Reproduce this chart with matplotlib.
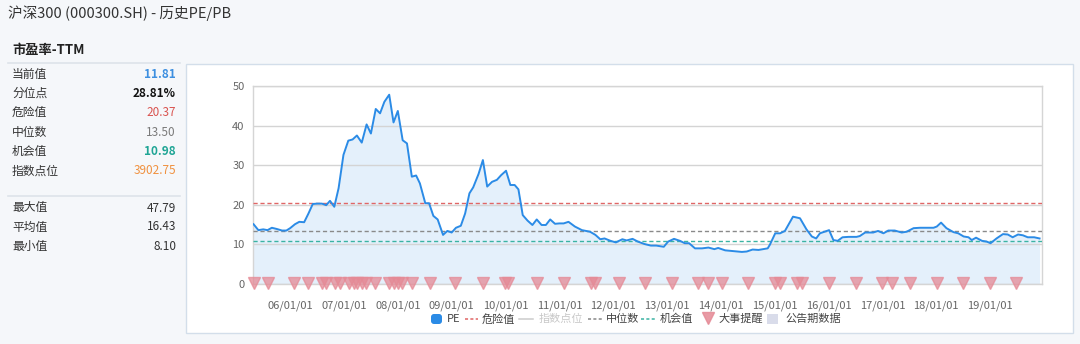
import matplotlib
matplotlib.use("Agg")
import matplotlib.pyplot as plt
from matplotlib.patches import Rectangle, FancyBboxPatch

plt.rcParams['font.family'] = ['Noto Sans CJK SC', 'DejaVu Sans']

# PE-TTM history (time in fractional years)
pe_t = [2005.32, 2005.41, 2005.50, 2005.58, 2005.66, 2005.75, 2005.85, 2005.93,
        2006.00, 2006.09, 2006.17, 2006.26, 2006.34, 2006.42, 2006.50, 2006.59,
        2006.67, 2006.74, 2006.82, 2006.90, 2006.99, 2007.08, 2007.16, 2007.24,
        2007.33, 2007.42, 2007.50, 2007.59, 2007.67, 2007.75, 2007.84, 2007.92,
        2008.00, 2008.09, 2008.17, 2008.26, 2008.34, 2008.41, 2008.51, 2008.58,
        2008.66, 2008.74, 2008.84, 2008.92, 2009.00, 2009.08, 2009.17, 2009.25,
        2009.33, 2009.40, 2009.50, 2009.58, 2009.66, 2009.75, 2009.84, 2009.92,
        2010.01, 2010.09, 2010.17, 2010.24, 2010.32, 2010.41, 2010.50, 2010.58,
        2010.67, 2010.75, 2010.83, 2010.92, 2011.00, 2011.08, 2011.17, 2011.29,
        2011.42, 2011.57, 2011.67, 2011.76, 2011.84, 2011.95, 2012.05, 2012.17,
        2012.25, 2012.36, 2012.46, 2012.58, 2012.70, 2012.80, 2012.94, 2013.02,
        2013.13, 2013.24, 2013.33, 2013.41, 2013.52, 2013.65, 2013.77, 2013.88,
        2013.95, 2014.08, 2014.23, 2014.39, 2014.48, 2014.59, 2014.70, 2014.79,
        2014.87, 2014.91, 2015.01, 2015.10, 2015.19, 2015.34, 2015.47, 2015.59,
        2015.69, 2015.77, 2015.84, 2016.01, 2016.09, 2016.17, 2016.26, 2016.37,
        2016.52, 2016.58, 2016.68, 2016.83, 2016.92, 2017.02, 2017.11, 2017.23,
        2017.36, 2017.45, 2017.58, 2017.70, 2017.95, 2018.01, 2018.09, 2018.19,
        2018.32, 2018.41, 2018.51, 2018.60, 2018.66, 2018.74, 2018.85, 2018.94,
        2019.01, 2019.12, 2019.24, 2019.33, 2019.42, 2019.52, 2019.61, 2019.70,
        2019.82, 2019.92]
pe_v = [15.1, 13.6, 13.8, 13.6, 14.2, 13.9, 13.5, 13.5,
        14.1, 15.1, 15.7, 15.6, 17.8, 20.2, 20.3, 20.3,
        19.9, 21.0, 19.5, 24.2, 32.6, 36.2, 36.5, 37.5,
        35.7, 40.3, 38.0, 44.2, 43.1, 46.0, 47.8, 40.8,
        43.7, 36.3, 35.5, 27.1, 27.4, 25.4, 20.4, 20.4,
        17.2, 16.3, 12.4, 13.4, 13.0, 14.2, 14.7, 17.8,
        22.9, 24.4, 27.8, 31.3, 24.6, 25.8, 26.3, 27.5,
        28.6, 25.0, 25.0, 23.9, 17.4, 16.0, 14.9, 16.3,
        14.9, 14.9, 16.3, 15.2, 15.3, 15.3, 15.7, 14.5,
        13.6, 13.2, 12.4, 11.3, 11.5, 10.9, 10.5, 11.3,
        11.0, 11.4, 10.7, 10.1, 9.7, 9.7, 9.4, 10.7,
        11.4, 10.9, 10.3, 10.3, 9.0, 9.0, 9.2, 8.8,
        9.1, 8.5, 8.3, 8.1, 8.2, 8.7, 8.6, 8.8,
        9.0, 9.9, 12.8, 12.8, 13.4, 17.0, 16.6, 13.8,
        12.0, 11.5, 12.8, 13.6, 11.1, 10.9, 11.8, 11.9,
        11.9, 12.1, 13.0, 13.0, 13.4, 12.8, 13.5, 13.5,
        13.0, 13.2, 14.1, 14.2, 14.2, 14.5, 15.5, 14.1,
        13.1, 12.8, 12.0, 11.8, 11.1, 11.7, 10.9, 10.7,
        10.3, 11.5, 12.6, 12.5, 11.8, 12.5, 12.3, 11.8,
        11.8, 11.5]

# 大事提醒 markers
event_t = [2005.33, 2005.58, 2006.07, 2006.33, 2006.59, 2006.66, 2006.84, 2006.92,
           2007.10, 2007.18, 2007.25, 2007.33, 2007.41, 2007.58, 2007.84, 2007.93,
           2008.00, 2008.07, 2008.26, 2008.59, 2009.06, 2009.59, 2009.99, 2010.05,
           2010.58, 2011.09, 2011.58, 2011.66, 2012.10, 2012.59, 2013.10, 2013.58,
           2013.76, 2014.02, 2014.51, 2015.01, 2015.09, 2015.42, 2015.50, 2016.01,
           2016.51, 2017.00, 2017.17, 2017.51, 2018.01, 2018.50, 2019.00, 2019.49]

danger = 20.37
median = 13.50
chance = 10.98

years = list(range(2006, 2020))
year_labels = ["%02d/01/01" % (y % 100) for y in years]

stat_labels = ["当前值", "分位点", "危险值", "中位数", "机会值", "指数点位"]
stat_values = ["11.81", "28.81%", "20.37", "13.50", "10.98", "3902.75"]
stat_colors = ["#3d8fe0", "#111111", "#d9534f", "#7a7a7a", "#1fa595", "#f0913f"]
extra_labels = ["最大值", "平均值", "最小值"]
extra_values = ["47.79", "16.43", "8.10"]

W, H = 1080, 344
fig = plt.figure(figsize=(W / 100, H / 100), dpi=100)
fig.patch.set_facecolor("#f5f7fa")

# background overlay in pixel coordinates
bg = fig.add_axes([0, 0, 1, 1])
bg.set_xlim(0, W)
bg.set_ylim(H, 0)
bg.axis("off")
bg.add_patch(Rectangle((186, 64), 887, 269, facecolor="white", edgecolor="#d3deea", lw=1))

bg.text(8, 13, "沪深300 (000300.SH) - 历史PE/PB", fontsize=10.5, color="#333333", va="center")
bg.text(12, 50, "市盈率-TTM", fontsize=9.5, color="#222222", fontweight="bold", va="center")
bg.plot([8, 180], [63, 63], color="#dde3ea", lw=1.2)
for i, (lab, val, col) in enumerate(zip(stat_labels, stat_values, stat_colors)):
    y = 74 + i * 19.4
    bg.text(12, y, lab, fontsize=8.5, color="#333333", va="center")
    bg.text(176, y, val, fontsize=8.5, color=col, va="center", ha="right",
            fontweight="bold" if i in (0, 1, 4) else "normal")
bg.plot([8, 180], [196, 196], color="#dde3ea", lw=1.2)
for i, (lab, val) in enumerate(zip(extra_labels, extra_values)):
    y = 208 + i * 19
    bg.text(12, y, lab, fontsize=8.5, color="#333333", va="center")
    bg.text(176, y, val, fontsize=8.5, color="#333333", va="center", ha="right")

# legend
ly = 319
bg.add_patch(FancyBboxPatch((431, ly - 5), 11, 10, boxstyle="round,pad=0,rounding_size=3",
                            facecolor="#2b8be6", edgecolor="none"))
bg.text(447, ly, "PE", fontsize=8, color="#444444", va="center")
bg.plot([465, 478], [ly, ly], color="#e06666", lw=1.1, ls=(0, (2, 1.5)))
bg.text(482, ly, "危险值", fontsize=8, color="#444444", va="center")
bg.plot([519, 533], [ly, ly], color="#cccccc", lw=1.1)
bg.text(539, ly, "指数点位", fontsize=8, color="#c8c8c8", va="center")
bg.plot([588, 602], [ly, ly], color="#888888", lw=1.1, ls=(0, (2, 1.5)))
bg.text(606, ly, "中位数", fontsize=8, color="#444444", va="center")
bg.plot([641, 656], [ly, ly], color="#3bb3a3", lw=1.1, ls=(0, (2, 1.5)))
bg.text(660, ly, "机会值", fontsize=8, color="#444444", va="center")
bg.plot([707.5], [ly - 1], marker="v", markersize=9, color="#e58a96", alpha=0.85, ls="none")
bg.text(718, ly, "大事提醒", fontsize=8, color="#444444", va="center")
bg.add_patch(Rectangle((767, ly - 5), 11, 10, facecolor="#d9dcea", edgecolor="none"))
bg.text(785, ly, "公告期数据", fontsize=8, color="#444444", va="center")

# main chart
ax = fig.add_axes([253 / W, 1 - 284 / H, (1042 - 253) / W, (284 - 86) / H])
ax.set_facecolor("white")
ax.fill_between(pe_t, pe_v, 0, color="#e4f0fb", lw=0, zorder=0.2)
ax.plot(pe_t, pe_v, color="#2b8be6", lw=1.4, zorder=4)
ax.axhline(danger, color="#e06666", lw=1, ls=(0, (3, 2)), zorder=3)
ax.axhline(median, color="#8a8a8a", lw=1, ls=(0, (3, 2)), zorder=3)
ax.axhline(chance, color="#3bb3a3", lw=1, ls=(0, (3, 2)), zorder=3)
ax.plot(event_t, [0.3] * len(event_t), marker="v", markersize=8.5, color="#e58a96",
        alpha=0.75, ls="none", clip_on=False, zorder=5)

ax.set_xlim(2005.31, 2019.965)
ax.set_ylim(0, 50)
ax.set_yticks([0, 10, 20, 30, 40, 50])
ax.set_xticks(years)
ax.set_xticklabels(year_labels)
ax.tick_params(axis="both", length=0, labelsize=8, colors="#666666")
ax.tick_params(axis="x", pad=12)
ax.tick_params(axis="y", pad=6)
ax.grid(axis="y", color="#d4d4d4", lw=1, zorder=0.5)
ax.set_axisbelow(True)
for s in ax.spines.values():
    s.set_color("#d5d5d5")
    s.set_linewidth(1)

fig.savefig("out.png", dpi=100, facecolor=fig.get_facecolor())
